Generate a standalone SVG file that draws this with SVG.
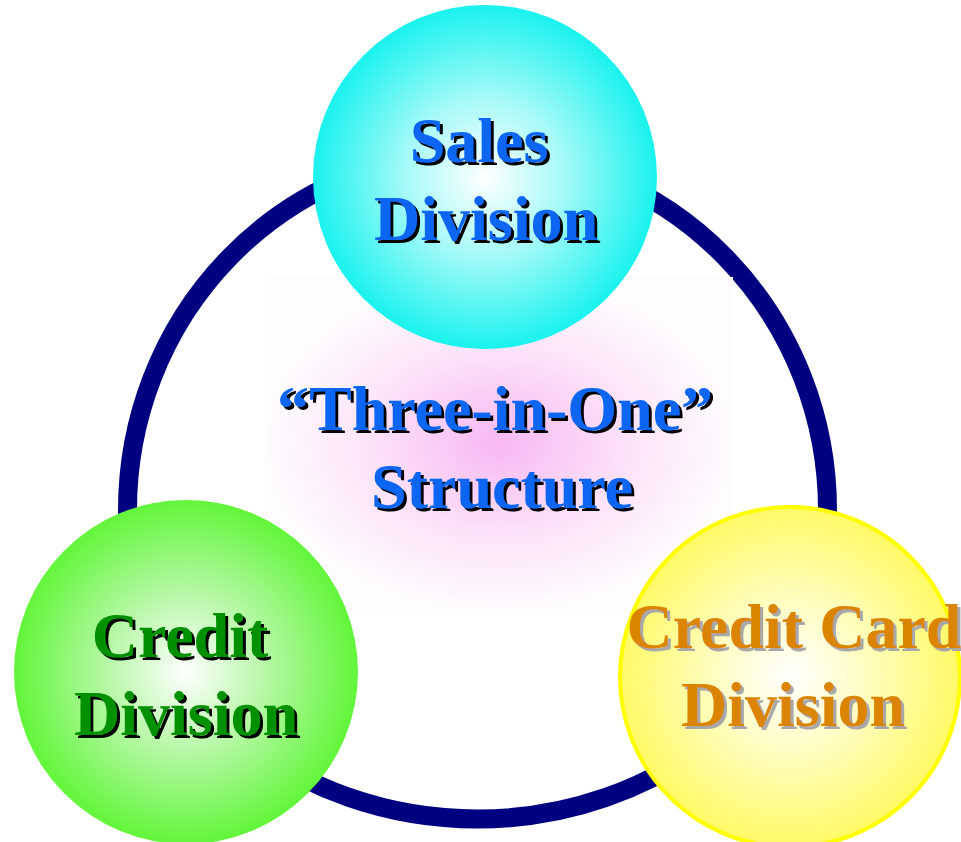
<svg xmlns="http://www.w3.org/2000/svg" width="961" height="842" viewBox="0 0 961 842">
<defs>
<radialGradient id="gCyan" cx="0.5" cy="0.5" r="0.5">
<stop offset="0" stop-color="#FFFFFF"/>
<stop offset="0.45" stop-color="#A8FAF8"/>
<stop offset="1" stop-color="#1AF2EE"/>
</radialGradient>
<radialGradient id="gGreen" cx="0.5" cy="0.5" r="0.5">
<stop offset="0" stop-color="#FFFFFF"/>
<stop offset="0.45" stop-color="#B8F8A8"/>
<stop offset="1" stop-color="#62F63A"/>
</radialGradient>
<radialGradient id="gYellow" cx="0.5" cy="0.5" r="0.5">
<stop offset="0" stop-color="#FFFFFF"/>
<stop offset="0.45" stop-color="#FFFDC0"/>
<stop offset="1" stop-color="#FFFA66"/>
</radialGradient>
<radialGradient id="gPink" cx="0.5" cy="0.5" r="0.5">
<stop offset="0" stop-color="#F8B8F2"/>
<stop offset="0.55" stop-color="#FCE2F9"/>
<stop offset="1" stop-color="#FEFCFE"/>
</radialGradient>
<filter id="shBlack" x="-5%" y="-10%" width="115%" height="130%">
<feFlood flood-color="#000000"/>
<feComposite in2="SourceAlpha" operator="in"/>
<feOffset dx="3" dy="3" result="s"/>
<feMerge><feMergeNode in="s"/><feMergeNode in="SourceGraphic"/></feMerge>
</filter>
<filter id="shGray" x="-5%" y="-10%" width="115%" height="130%">
<feFlood flood-color="#A8A8A8"/>
<feComposite in2="SourceAlpha" operator="in"/>
<feOffset dx="3" dy="3" result="s"/>
<feMerge><feMergeNode in="s"/><feMergeNode in="SourceGraphic"/></feMerge>
</filter>
</defs>
<style>
text{font-family:"Liberation Serif","Times New Roman",serif;font-weight:bold;font-size:64px;text-anchor:middle}
.blue{fill:#0A66F2;filter:url(#shBlack)}
.green{fill:#009000;filter:url(#shBlack)}
.orange{fill:#DA8400;filter:url(#shGray)}
</style>
<rect width="961" height="842" fill="#FFFFFF"/>
<g id="connectors">
<path d="M127.5,510 A350,358 0 0 1 827.5,510 A350,309 0 0 1 127.5,510 Z" fill="none" stroke="#000080" stroke-width="19"/>
</g>
<rect x="265" y="277" width="468" height="333" fill="url(#gPink)"/>
<g id="sales">
<circle cx="485" cy="177" r="172" fill="url(#gCyan)"/>
<text class="blue" x="479" y="162">Sales</text>
<text class="blue" x="486" y="240">Division</text>
</g>
<g id="credit">
<circle cx="186" cy="672" r="172" fill="url(#gGreen)"/>
<text class="green" x="180" y="657">Credit</text>
<text class="green" x="186" y="735">Division</text>
</g>
<g id="creditcard">
<circle cx="790" cy="677" r="170" fill="url(#gYellow)" stroke="#FFFF00" stroke-width="4"/>
<text class="orange" x="794" y="648">Credit Card</text>
<text class="orange" x="793" y="726">Division</text>
</g>
<g id="center">
<text class="blue" x="495" y="430">“Three-in-One”</text>
<text class="blue" x="502" y="508">Structure</text>
</g>
</svg>
